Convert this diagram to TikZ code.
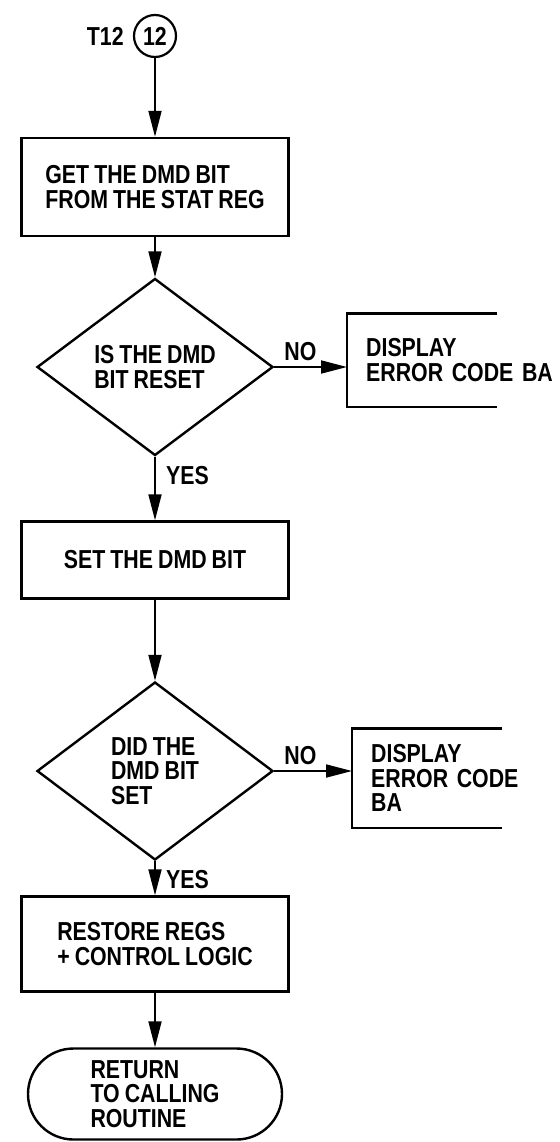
\documentclass[tikz,border=0pt]{standalone}
\usepackage{fontspec}
\setmainfont{Liberation Sans}[FakeStretch=0.82,WordSpace=0.85]
\usetikzlibrary{arrows.meta,positioning,shapes.geometric,shapes.misc}

\tikzset{
  chart/.style={font=\fontsize{26}{24.5}\selectfont\bfseries},
  procbox/.style={draw,line width=2.4pt,minimum width=267pt,minimum height=98pt,align=left,inner sep=0pt},
  decision/.style={draw,diamond,aspect=1.33,line width=2.4pt,minimum width=236pt,minimum height=177pt,align=left,inner sep=0pt},
  errbox/.style={anchor=west,text width=215pt,inner xsep=19pt,inner ysep=0pt,minimum height=93pt,align=left},
  endcap/.style={draw,rounded rectangle,line width=2.4pt,minimum width=254pt,minimum height=91pt,align=left,inner sep=0pt},
  conn/.style={circle,draw,line width=2.2pt,minimum size=42pt,inner sep=0pt},
  flow/.style={line width=1.8pt,-{Triangle[length=26pt,width=13pt]}},
  lbl/.style={inner sep=1pt}
}

\begin{document}
\begin{tikzpicture}[x=1pt,y=-1pt,chart]
  \useasboundingbox (0,0) rectangle (559,1142);
  \node[conn] (c12) at (155,36) {12};
  \node[lbl,left=8pt of c12] (t12) {T12};
  \node[procbox] (getbit) at (155,187) {GET THE DMD BIT\\FROM THE STAT REG};
  \node[decision] (isreset) at (155,367) {IS THE DMD\\BIT RESET};
  \node[errbox] (err1) at (347,360) {DISPLAY\\ERROR CODE BA};
  \node[procbox,minimum height=77pt] (setbit) at (155,560) {SET THE DMD BIT};
  \node[decision,minimum height=178pt] (didset) at (155,771) {DID THE\\DMD BIT\\SET};
  \node[errbox,minimum height=99pt] (err2) at (352,778) {DISPLAY\\ERROR CODE\\BA};
  \node[procbox,minimum height=95pt] (restore) at (155,944) {RESTORE REGS\\+ CONTROL LOGIC};
  \node[endcap] (return) at (155,1094) {RETURN\\TO CALLING\\ROUTINE};

  \draw[line width=2.4pt] (err1.north west) ++(150,0) -- (err1.north west) -- (err1.south west) -- ++(150,0);
  \draw[line width=2.4pt] (err2.north west) ++(150,0) -- (err2.north west) -- (err2.south west) -- ++(150,0);

  \draw[flow] (c12) -- (getbit);
  \draw[flow] (getbit) -- (isreset);
  \draw[flow] (isreset.east) -- (isreset.east -| err1.west);
  \node[lbl,above right=5pt and 9pt of isreset.east] (no1) {NO};
  \draw[flow] (isreset) -- (setbit);
  \node[lbl,below right=8pt and 10pt of isreset.south] (yes1) {YES};
  \draw[flow] (setbit) -- (didset);
  \draw[flow] (didset.east) -- (didset.east -| err2.west);
  \node[lbl,above right=5pt and 9pt of didset.east] (no2) {NO};
  \draw[flow] (didset) -- (restore);
  \node[lbl,below right=8pt and 10pt of didset.south] (yes2) {YES};
  \draw[flow] (restore) -- (return);
\end{tikzpicture}
\end{document}
